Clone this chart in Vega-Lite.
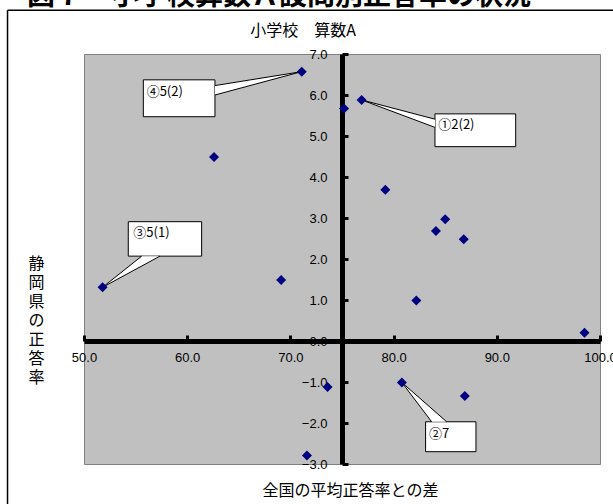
{
  "$schema": "https://vega.github.io/schema/vega-lite/v6.json",
  "width": 516,
  "height": 410,
  "autosize": {"type": "none"},
  "padding": {"left": 84, "top": 54, "right": 13, "bottom": 40},
  "background": "white",
  "config": {
    "view": {"fill": "#c0c0c0", "stroke": "#808080", "strokeWidth": 1},
    "axis": {"grid": false}
  },
  "datasets": {
    "points": [
      {"x": 71.1, "y": 6.57},
      {"x": 62.6, "y": 4.49},
      {"x": 51.8, "y": 1.31},
      {"x": 69.1, "y": 1.49},
      {"x": 75.2, "y": 5.67},
      {"x": 76.9, "y": 5.88},
      {"x": 79.2, "y": 3.69},
      {"x": 85.0, "y": 2.97},
      {"x": 84.1, "y": 2.68},
      {"x": 86.8, "y": 2.48},
      {"x": 82.2, "y": 0.99},
      {"x": 98.5, "y": 0.20},
      {"x": 80.8, "y": -1.01},
      {"x": 86.9, "y": -1.34},
      {"x": 73.6, "y": -1.12},
      {"x": 71.6, "y": -2.79}
    ],
    "callouts": [
      {"label": "④5(2)", "x1": 55.75, "x2": 62.69, "y1": 6.37, "y2": 5.47, "tx": 56.07, "ty": 6.08},
      {"label": "③5(1)", "x1": 54.29, "x2": 61.40, "y1": 2.91, "y2": 2.07, "tx": 54.78, "ty": 2.63},
      {"label": "①2(2)", "x1": 84.01, "x2": 91.83, "y1": 5.54, "y2": 4.74, "tx": 84.33, "ty": 5.27},
      {"label": "②7", "x1": 83.10, "x2": 87.98, "y1": -1.97, "y2": -2.70, "tx": 83.43, "ty": -2.27}
    ],
    "wedges": [
      {"id": "a", "o": 1, "x": 62.69, "y": 6.23},
      {"id": "a", "o": 2, "x": 71.1, "y": 6.57},
      {"id": "a", "o": 3, "x": 62.69, "y": 6.0},
      {"id": "b", "o": 1, "x": 55.59, "y": 2.07},
      {"id": "b", "o": 2, "x": 51.8, "y": 1.31},
      {"id": "b", "o": 3, "x": 57.36, "y": 2.07},
      {"id": "c", "o": 1, "x": 84.01, "y": 5.41},
      {"id": "c", "o": 2, "x": 76.9, "y": 5.88},
      {"id": "c", "o": 3, "x": 84.01, "y": 5.21},
      {"id": "d", "o": 1, "x": 83.69, "y": -1.97},
      {"id": "d", "o": 2, "x": 80.8, "y": -1.01},
      {"id": "d", "o": 3, "x": 85.14, "y": -1.97}
    ],
    "texts": [
      {"text": "図７　小学校算数Ａ設問別正答率の状況", "x": 44.48, "y": 8.2},
      {"text": "小学校　算数A", "x": 71.22, "y": 7.56}
    ]
  },
  "layer": [
    {
      "data": {"values": [{}]},
      "mark": {"type": "rule", "color": "black", "strokeWidth": 1.5, "clip": false},
      "encoding": {
        "x": {"datum": 42.59, "type": "quantitative"},
        "y": {"datum": 8.07, "type": "quantitative"},
        "y2": {"datum": -4.3}
      }
    },
    {
      "data": {"values": [{}]},
      "mark": {"type": "rule", "color": "black", "strokeWidth": 1.5, "clip": false},
      "encoding": {
        "x": {"datum": 42.59, "type": "quantitative"},
        "x2": {"datum": 102},
        "y": {"datum": 8.07, "type": "quantitative"}
      }
    },
    {
      "data": {"name": "texts"},
      "transform": [{"filter": "datum.y > 8"}],
      "mark": {"type": "text", "font": "Noto Sans CJK JP", "fontSize": 28, "fontWeight": "bold", "align": "left", "baseline": "alphabetic", "color": "black"},
      "encoding": {
        "x": {"field": "x", "type": "quantitative"},
        "y": {"field": "y", "type": "quantitative"},
        "text": {"field": "text", "type": "nominal"}
      }
    },
    {
      "data": {"name": "texts"},
      "transform": [{"filter": "datum.y < 8"}],
      "mark": {"type": "text", "font": "Noto Sans CJK JP", "fontSize": 16, "align": "center", "baseline": "middle", "color": "black"},
      "encoding": {
        "x": {"field": "x", "type": "quantitative"},
        "y": {"field": "y", "type": "quantitative"},
        "text": {"field": "text", "type": "nominal"}
      }
    },
    {
      "data": {"name": "callouts"},
      "mark": {"type": "rect", "fill": "white", "stroke": "black", "strokeWidth": 1},
      "encoding": {
        "x": {"field": "x1", "type": "quantitative"},
        "x2": {"field": "x2"},
        "y": {"field": "y1", "type": "quantitative"},
        "y2": {"field": "y2"}
      }
    },
    {
      "data": {"name": "wedges"},
      "mark": {"type": "line", "fill": "white", "stroke": "black", "strokeWidth": 1},
      "encoding": {
        "x": {"field": "x", "type": "quantitative"},
        "y": {"field": "y", "type": "quantitative"},
        "detail": {"field": "id", "type": "nominal"},
        "order": {"field": "o", "type": "quantitative"}
      }
    },
    {
      "data": {"name": "callouts"},
      "mark": {"type": "text", "font": "Noto Sans CJK JP", "fontSize": 13, "align": "left", "baseline": "middle", "color": "black"},
      "encoding": {
        "x": {"field": "tx", "type": "quantitative"},
        "y": {"field": "ty", "type": "quantitative"},
        "text": {"field": "label", "type": "nominal"}
      }
    },
    {
      "data": {"name": "points"},
      "mark": {"type": "point", "shape": "diamond", "filled": true, "size": 100, "color": "#000080", "opacity": 1},
      "encoding": {
        "x": {
          "field": "x",
          "type": "quantitative",
          "scale": {"domain": [50, 100], "nice": false, "zero": false},
          "axis": {
            "orient": "bottom",
            "offset": -123,
            "values": [50, 60, 70, 80, 90, 100],
            "format": ".1f",
            "domainColor": "black",
            "domainWidth": 5,
            "tickColor": "black",
            "tickWidth": 3,
            "tickSize": -6,
            "labelFont": "Liberation Sans",
            "labelFontSize": 13,
            "labelColor": "black",
            "labelPadding": 16,
            "labelFlush": false,
            "labelOverlap": false,
            "title": "全国の平均正答率との差",
            "titleFont": "Noto Sans CJK JP",
            "titleFontSize": 16,
            "titleFontWeight": "normal",
            "titleColor": "black",
            "titleX": 266,
            "titleY": 149,
            "titleAlign": "center",
            "titleBaseline": "middle"
          }
        },
        "y": {
          "field": "y",
          "type": "quantitative",
          "scale": {"domain": [-3, 7], "nice": false, "zero": false},
          "axis": {
            "orient": "left",
            "offset": -258,
            "values": [-3, -2, -1, 0, 1, 2, 3, 4, 5, 6, 7],
            "format": ".1f",
            "domainColor": "black",
            "domainWidth": 5,
            "tickColor": "black",
            "tickWidth": 3,
            "tickSize": -6,
            "labelFont": "Liberation Sans",
            "labelFontSize": 13,
            "labelColor": "black",
            "labelPadding": 21,
            "labelFlush": false,
            "labelOverlap": false,
            "title": ["静", "岡", "県", "の", "正", "答", "率"],
            "titleAngle": 0,
            "titleFont": "Noto Sans CJK JP",
            "titleFontSize": 16,
            "titleFontWeight": "normal",
            "titleColor": "black",
            "titleLineHeight": 19,
            "titleX": -306,
            "titleY": 201,
            "titleAlign": "center",
            "titleBaseline": "top"
          }
        }
      }
    }
  ]
}
